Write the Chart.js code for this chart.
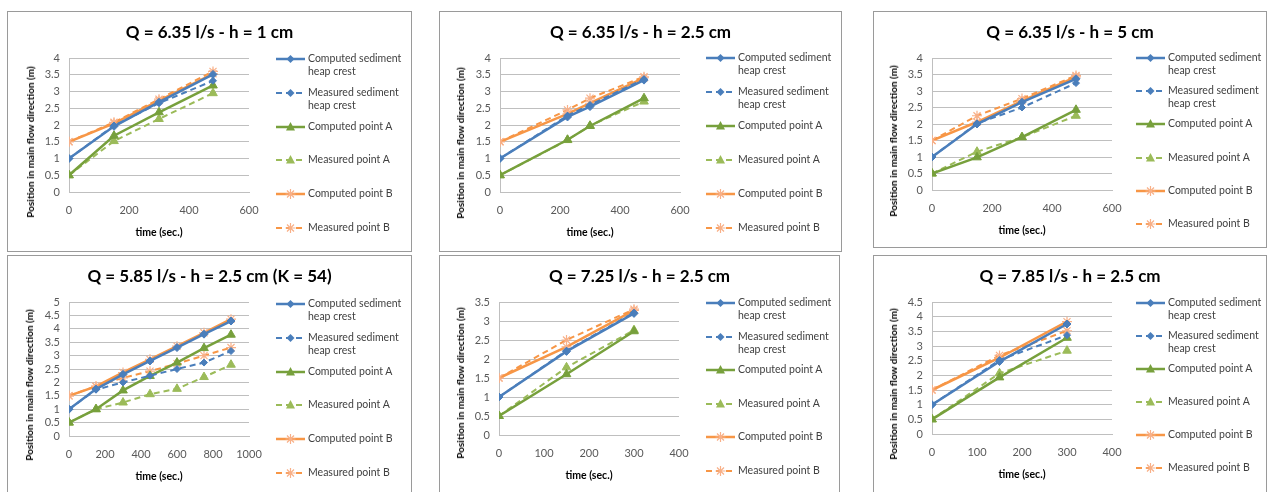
<!DOCTYPE html>
<html>
<head>
<meta charset="utf-8">
<script src="https://cdn.jsdelivr.net/npm/chart.js@4.4.0/dist/chart.umd.min.js"></script>
<style>
  body { margin: 0; background: #fff; width: 1268px; height: 492px; overflow: hidden; position: relative; font-family: Lato, "Open Sans", sans-serif; }
  .panel { position: absolute; border: 1px solid #9a9a9a; box-sizing: border-box; background: #fff; overflow: hidden; }
  .panel canvas { position: absolute; left: 0; top: 0; }
  .entry { position: absolute; white-space: nowrap; font-size: 10.5px; line-height: 13px; color: #404040; }
  .entry svg { position: absolute; left: 0; top: -7px; }
  .entry span { position: absolute; top: -7px; }
  .ytitle { position: absolute; white-space: nowrap; font-size: 10px; font-weight: bold; color: #000; transform: translate(-50%, -50%) rotate(-90deg); }
</style>
</head>
<body>
<script>
const titles = [
  "Q = 6.35 l/s - h = 1 cm",
  "Q = 6.35 l/s - h = 2.5 cm",
  "Q = 6.35 l/s - h = 5 cm",
  "Q = 5.85 l/s - h = 2.5 cm (K = 54)",
  "Q = 7.25 l/s - h = 2.5 cm",
  "Q = 7.85 l/s - h = 2.5 cm"
]
const seriesNames = [
  ["Computed sediment", "heap crest"],
  ["Measured sediment", "heap crest"],
  ["Computed point A"],
  ["Measured point A"],
  ["Computed point B"],
  ["Measured point B"]
]
const xTitle = "time (sec.)"
const yTitle = "Position in main flow direction (m)"

// panel 1
const time1 = [0, 150, 300, 480]
const crestComputed1 = [1, 1.96, 2.68, 3.51]
const crestMeasured1 = [1, 1.98, 2.65, 3.32]
const aComputed1 = [0.5, 1.68, 2.38, 3.18]
const aMeasured1 = [0.5, 1.52, 2.18, 2.95]
const bComputed1 = [1.5, 2.05, 2.73, 3.53]
const bMeasured1 = [1.5, 2.08, 2.77, 3.6]

// panel 2
const time2 = [0, 225, 300, 480]
const crestComputed2 = [1, 2.24, 2.55, 3.34]
const crestMeasured2 = [1, 2.28, 2.6, 3.37]
const aComputed2 = [0.5, 1.56, 1.97, 2.8]
const aMeasured2 = [0.5, 1.55, 1.98, 2.7]
const bComputed2 = [1.5, 2.33, 2.65, 3.41]
const bMeasured2 = [1.5, 2.45, 2.8, 3.44]

// panel 3
const time3 = [0, 150, 300, 480]
const crestComputed3 = [1, 2.0, 2.66, 3.37]
const crestMeasured3 = [1, 2.02, 2.5, 3.24]
const aComputed3 = [0.5, 0.99, 1.6, 2.43]
const aMeasured3 = [0.5, 1.16, 1.6, 2.25]
const bComputed3 = [1.5, 2.06, 2.7, 3.43]
const bMeasured3 = [1.5, 2.25, 2.77, 3.47]

// panel 4
const time4 = [0, 150, 300, 450, 600, 750, 900]
const crestComputed4 = [1, 1.75, 2.3, 2.8, 3.3, 3.8, 4.29]
const crestMeasured4 = [1, 1.73, 2.0, 2.25, 2.5, 2.74, 3.17]
const aComputed4 = [0.5, 1.0, 1.7, 2.24, 2.74, 3.28, 3.78]
const aMeasured4 = [0.5, 1.0, 1.25, 1.56, 1.76, 2.2, 2.66]
const bComputed4 = [1.5, 1.85, 2.37, 2.86, 3.35, 3.85, 4.36]
const bMeasured4 = [1.5, 1.86, 2.17, 2.42, 2.7, 3.0, 3.3]

// panel 5
const time5 = [0, 150, 300]
const crestComputed5 = [1, 2.2, 3.2]
const crestMeasured5 = [1, 2.22, 3.22]
const aComputed5 = [0.5, 1.6, 2.73]
const aMeasured5 = [0.5, 1.78, 2.76]
const bComputed5 = [1.5, 2.32, 3.28]
const bMeasured5 = [1.5, 2.5, 3.31]

// panel 6
const time6 = [0, 150, 300]
const crestComputed6 = [1, 2.47, 3.75]
const crestMeasured6 = [1, 2.52, 3.37]
const aComputed6 = [0.5, 1.93, 3.28]
const aMeasured6 = [0.5, 2.07, 2.84]
const bComputed6 = [1.5, 2.6, 3.83]
const bMeasured6 = [1.5, 2.68, 3.52]

const xMax = [600, 600, 600, 1000, 400, 400]
const xStep = [200, 200, 200, 200, 100, 100]
const yMax = [4, 4, 4, 5, 3.5, 4.5]

const panelData = [
  { time: time1, values: [crestComputed1, crestMeasured1, aComputed1, aMeasured1, bComputed1, bMeasured1] },
  { time: time2, values: [crestComputed2, crestMeasured2, aComputed2, aMeasured2, bComputed2, bMeasured2] },
  { time: time3, values: [crestComputed3, crestMeasured3, aComputed3, aMeasured3, bComputed3, bMeasured3] },
  { time: time4, values: [crestComputed4, crestMeasured4, aComputed4, aMeasured4, bComputed4, bMeasured4] },
  { time: time5, values: [crestComputed5, crestMeasured5, aComputed5, aMeasured5, bComputed5, bMeasured5] },
  { time: time6, values: [crestComputed6, crestMeasured6, aComputed6, aMeasured6, bComputed6, bMeasured6] }
]

// box layout of each panel on the page
const boxes = [
  { left: 7, top: 11, width: 405, height: 241, plotLeft: 61, plotH: 134, legLeft: 268, legTop: 47, gap: 33.8, yT: [22, 130] },
  { left: 439, top: 11, width: 403, height: 241, plotLeft: 60, plotH: 134, legLeft: 266, legTop: 46, gap: 34, yT: [20, 131] },
  { left: 873, top: 11, width: 394, height: 237, plotLeft: 58, plotH: 132, legLeft: 262, legTop: 46, gap: 33.2, yT: [19, 129] },
  { left: 7, top: 255, width: 405, height: 250, plotLeft: 61, plotH: 134, legLeft: 268, legTop: 48, gap: 33.8, yT: [21, 129] },
  { left: 439, top: 255, width: 401, height: 250, plotLeft: 59, plotH: 133, legLeft: 266, legTop: 47, gap: 33.6, yT: [20, 127] },
  { left: 873, top: 255, width: 394, height: 250, plotLeft: 58, plotH: 132, legLeft: 262, legTop: 47, gap: 33, yT: [19, 128] }
]

const styles = [
  { color: "#4a7ebb", marker: "#4a7ebb", shape: "rectRot", radius: 4, dash: [], width: 2.5 },
  { color: "#4a7ebb", marker: "#4a7ebb", shape: "rectRot", radius: 3.5, dash: [6, 4], width: 2 },
  { color: "#77a03c", marker: "#77a03c", shape: "triangle", radius: 5, dash: [], width: 2.5 },
  { color: "#9bbb59", marker: "#9bbb59", shape: "triangle", radius: 5, dash: [6, 4], width: 2 },
  { color: "#f79646", marker: "#f8b088", shape: "star", radius: 5, dash: [], width: 2.5 },
  { color: "#f79646", marker: "#f8b088", shape: "star", radius: 5, dash: [6, 4], width: 2 }
]

const FONT = "Lato, 'Open Sans', sans-serif"
const CANVAS_H = 236

function legendIcon(s) {
  const dash = s.dash.length ? ` stroke-dasharray="${s.dash.join(",")}"` : ""
  let m = ""
  if (s.shape === "rectRot") {
    m = `<polygon points="14.5,3 18.5,7 14.5,11 10.5,7" fill="${s.marker}"/>`
  } else if (s.shape === "triangle") {
    m = `<polygon points="14.5,2 19,10.5 10,10.5" fill="${s.marker}"/>`
  } else {
    m = `<path d="M9.5,7H19.5M14.5,2V12M11,3.5L18,10.5M18,3.5L11,10.5" stroke="${s.marker}" stroke-width="1.2"/>`
  }
  return `<svg width="30" height="14"><line x1="0" y1="7" x2="29" y2="7" stroke="${s.color}" stroke-width="${s.width}"${dash}/>${m}</svg>`
}

panelData.forEach((p, n) => {
  const b = boxes[n]
  const div = document.createElement("div")
  div.className = "panel"
  Object.assign(div.style, { left: b.left + "px", top: b.top + "px", width: b.width + "px", height: b.height + "px" })
  document.body.appendChild(div)

  const canvas = document.createElement("canvas")
  const cw = b.width - 2
  canvas.width = cw
  canvas.height = CANVAS_H
  canvas.style.width = cw + "px"
  canvas.style.height = CANVAS_H + "px"
  div.appendChild(canvas)

  // y axis title, placed like the Excel one (centred a bit below the plot middle)
  const yt = document.createElement("div")
  yt.className = "ytitle"
  yt.style.left = b.yT[0] + "px"
  yt.style.top = b.yT[1] + "px"
  yt.textContent = yTitle
  div.appendChild(yt)

  // legend, built from the series names and styles
  seriesNames.forEach((lines, k) => {
    const e = document.createElement("div")
    e.className = "entry"
    e.style.left = b.legLeft + "px"
    e.style.top = (b.legTop + k * b.gap) + "px"
    e.innerHTML = legendIcon(styles[k]) + `<span style="left:32px">${lines.join("<br>")}</span>`
    div.appendChild(e)
  })

  const rightPad = cw - b.plotLeft - 180

  new Chart(canvas, {
    type: "line",
    data: {
      datasets: p.values.map((vals, k) => ({
        label: seriesNames[k].join(" "),
        data: p.time.map((t, i) => ({ x: t, y: vals[i] })),
        borderColor: styles[k].color,
        borderWidth: styles[k].width,
        borderDash: styles[k].dash,
        pointStyle: styles[k].shape,
        pointRadius: styles[k].radius,
        pointBackgroundColor: styles[k].marker,
        pointBorderColor: styles[k].marker,
        pointBorderWidth: styles[k].shape === "star" ? 1.2 : 1,
        tension: 0,
        fill: false
      }))
    },
    options: {
      responsive: false,
      animation: false,
      layout: {
        padding: { left: 0, top: 0, right: 0, bottom: CANVAS_H - 46 - b.plotH - 48 }
      },
      plugins: {
        legend: { display: false },
        tooltip: { enabled: false },
        title: {
          display: true,
          text: titles[n],
          color: "#000",
          font: { family: FONT, size: 17, weight: "bold" },
          padding: { top: 10.5, bottom: 15.1 }
        }
      },
      scales: {
        x: {
          type: "linear",
          min: 0,
          max: xMax[n],
          ticks: { stepSize: xStep[n], autoSkip: false, padding: 12, maxRotation: 0, color: "#595959", font: { family: FONT, size: 11 }, callback: (v) => String(v) },
          grid: { display: false, drawTicks: false },
          border: { color: "#bfbfbf", width: 1 },
          title: { display: true, text: xTitle, color: "#000", font: { family: FONT, size: 10.5, weight: "bold" }, padding: { top: 0, bottom: 1.4 } },
          afterFit: (s) => { s.height = 48 }
        },
        y: {
          min: 0,
          max: yMax[n],
          ticks: { stepSize: 0.5, autoSkip: false, padding: 9, color: "#595959", font: { family: FONT, size: 11 }, callback: (v) => String(v) },
          grid: { color: "#bfbfbf", drawTicks: false },
          border: { color: "#bfbfbf", width: 1 },
          afterFit: (s) => { s.width = b.plotLeft }
        },
        // empty right-hand axis that reserves the legend room
        legendSpace: {
          type: "linear",
          position: "right",
          display: true,
          ticks: { display: false },
          grid: { display: false, drawTicks: false },
          border: { display: false },
          afterFit: (s) => { s.width = rightPad }
        }
      }
    }
  })
})
</script>
</body>
</html>
